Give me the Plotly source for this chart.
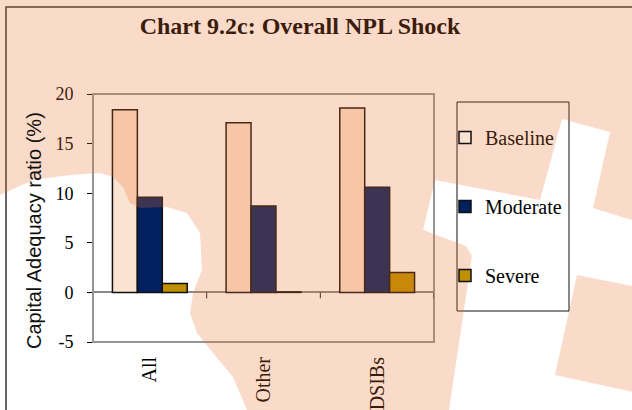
import plotly.graph_objects as go

# Capital adequacy ratio (%) under the overall NPL shock scenarios
categories = ["All", "Other", "DSIBs"]
baseline = [18.4, 17.1, 18.6]
moderate = [9.6, 8.7, 10.6]
severe = [0.9, 0.05, 2.0]

series_names = ["Baseline", "Moderate", "Severe"]
y_ticks = [-5, 0, 5, 10, 15, 20]
y_tick_text = [str(v) for v in y_ticks]

W, H = 632, 410
L, R, T, B = 93, 198, 94, 68
PW, PH = W - L - R, H - T - B


def to_paper(px, py):
    """Convert a pixel position on the page to paper coordinates."""
    return (px - L) / PW, (H - B - py) / PH


def path_from(points):
    parts = []
    for i, (px, py) in enumerate(points):
        x, y = to_paper(px, py)
        parts.append(("M" if i == 0 else "L") + f"{x:.4f},{y:.4f}")
    return " ".join(parts) + " Z"


SERIF = "Liberation Serif, Times New Roman, serif"
SANS = "Liberation Sans, Arial, sans-serif"
TINT_TEXT = "#3C1D0B"

fill_colors = ["#FAE3D1", "#002060", "#BF9000"]
legend_labels = [f'<span style="color:{TINT_TEXT}">Baseline</span>', "Moderate", "Severe"]

fig = go.Figure()
for name, label, vals, col in zip(series_names, legend_labels, [baseline, moderate, severe], fill_colors):
    fig.add_trace(go.Bar(
        x=categories, y=vals, name=label, legendgroup=name,
        marker=dict(color=col, line=dict(color="#111111", width=1.5)),
    ))

# Watermark: an orange wash over the page with two white cut-outs
outer = [(-20, -20), (W + 20, -20), (W + 20, H + 20), (-20, H + 20)]
left_blob = [(-20, 197), (0, 195), (33, 180), (70, 175), (100, 173), (113, 177),
             (123, 187), (130, 203), (140, 208), (167, 207), (187, 213), (200, 233),
             (202, 270), (193, 293), (190, 313), (197, 333), (213, 353), (233, 377),
             (247, 410), (251, H + 20), (-20, H + 20)]
right_cross = [(562, 119), (610, 132), (593, 208), (W + 20, 226), (W + 20, 290),
               (577, 275), (555, 375), (W + 20, 396), (W + 20, H + 20), (446, H + 20),
               (472, 256), (466, 246), (423, 230), (435, 180), (540, 200)]
wash_path = " ".join(path_from(p) for p in [outer, left_blob, right_cross])

shapes = []
# chart area border
fx0, fy0 = to_paper(6, 7)
fx1, fy1 = to_paper(W + 20, H + 20)
shapes.append(dict(type="rect", xref="paper", yref="paper", x0=fx0, y0=fy1, x1=fx1, y1=fy0,
                   line=dict(color="#333333", width=1.5), layer="above"))
# plot area border
shapes.append(dict(type="rect", xref="paper", yref="paper", x0=0, y0=0, x1=1, y1=1,
                   line=dict(color="#959595", width=2), layer="above"))
# legend box
lx0, ly0 = to_paper(457, 102)
lx1, ly1 = to_paper(569, 311)
shapes.append(dict(type="rect", xref="paper", yref="paper", x0=lx0, y0=ly1, x1=lx1, y1=ly0,
                   line=dict(color="#111111", width=1), layer="above"))
# category dividers hanging from the zero line
for i in range(len(categories)):
    shapes.append(dict(type="line", xref="x", yref="y", x0=i + 0.5, x1=i + 0.5, y0=0, y1=-0.6,
                       line=dict(color="#222222", width=1), layer="above"))
shapes.append(dict(type="path", xref="paper", yref="paper", path=wash_path,
                   fillcolor="rgba(235,114,42,0.256)", fillrule="evenodd",
                   line=dict(width=0), layer="above"))

ax, ay = to_paper(34, 231)
lgx, lgy = to_paper(445, 118)

fig.update_layout(
    width=W, height=H,
    margin=dict(l=L, r=R, t=T, b=B, pad=0, autoexpand=False),
    paper_bgcolor="white", plot_bgcolor="rgba(0,0,0,0)",
    font=dict(family=SERIF, size=18, color="#000000"),
    barmode="group", bargap=0.342, bargroupgap=0,
    title=dict(text="<b>Chart 9.2c: Overall NPL Shock</b>", xref="container", yref="container",
               x=300 / W, y=1 - 26 / H, xanchor="center", yanchor="middle",
               font=dict(family=SERIF, size=24, color=TINT_TEXT)),
    xaxis=dict(type="category", range=[-0.5, 2.5], showline=False, showgrid=False,
               automargin=False, ticks="", tickangle=-90, ticklabelstandoff=10,
               tickfont=dict(family=SERIF, size=20)),
    yaxis=dict(range=[-5, 20], tickvals=y_ticks, ticktext=y_tick_text, showgrid=False,
               automargin=False, showline=True, linecolor="#000000", linewidth=1,
               ticks="outside", ticklen=5, tickcolor="#000000", tickwidth=1,
               ticklabelstandoff=10, tickfont=dict(family=SERIF, size=18),
               zeroline=True, zerolinecolor="#8a8a8a", zerolinewidth=1.5),
    legend=dict(x=lgx, y=lgy, xanchor="left", yanchor="top", xref="paper", yref="paper",
                bgcolor="rgba(0,0,0,0)", borderwidth=0, tracegroupgap=40,
                font=dict(family=SERIF, size=20)),
    shapes=shapes,
    annotations=[dict(text="Capital Adequacy ratio (%)", xref="paper", yref="paper",
                      x=ax, y=ay, xanchor="center", yanchor="middle", textangle=-90,
                      showarrow=False, font=dict(family=SANS, size=20, color="#111111"))],
)

fig.write_html("out.html")
